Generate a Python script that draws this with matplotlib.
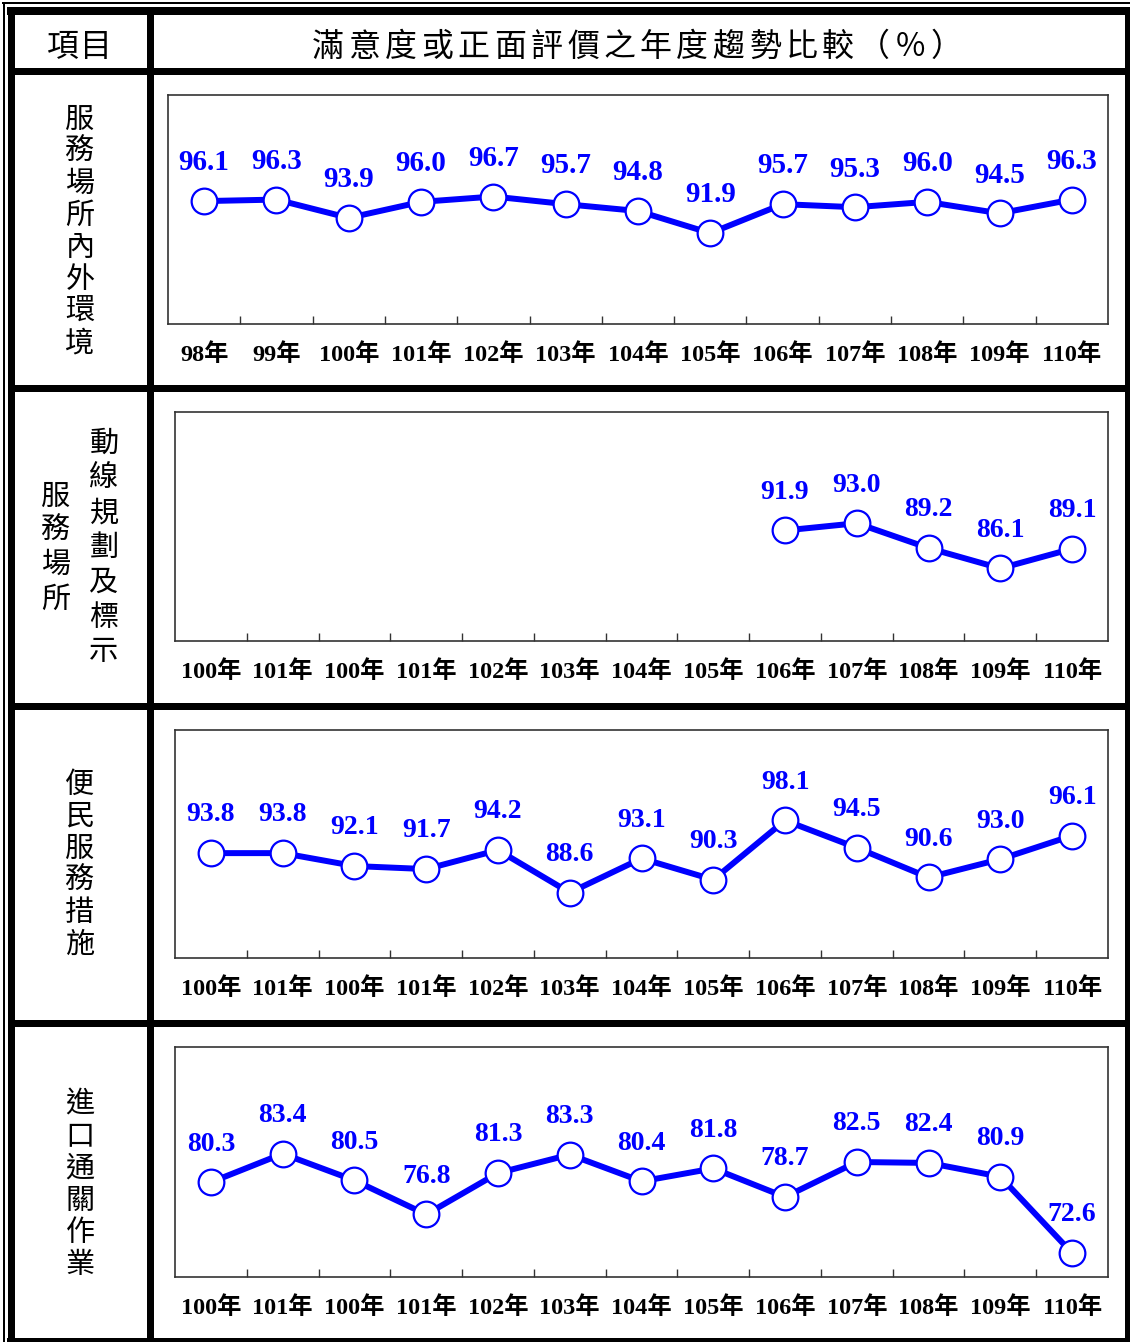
import numpy as np
import matplotlib
matplotlib.use("Agg")
import matplotlib.pyplot as plt
from matplotlib.patches import Rectangle

# ---------------- data ----------------
header_item = "項目"
header_title = "滿意度或正面評價之年度趨勢比較（%）"

row_labels = ["服務場所內外環境", ("服務場所", "動線規劃及標示"), "便民服務措施", "進口通關作業"]

years_env = ['98年', '99年', '100年', '101年', '102年', '103年', '104年',
             '105年', '106年', '107年', '108年', '109年', '110年']
years_other = ['100年', '101年', '100年', '101年', '102年', '103年', '104年',
               '105年', '106年', '107年', '108年', '109年', '110年']

env_values = [96.1, 96.3, 93.9, 96.0, 96.7, 95.7, 94.8, 91.9, 95.7, 95.3, 96.0, 94.5, 96.3]
signage_values = [np.nan] * 8 + [91.9, 93.0, 89.2, 86.1, 89.1]
measures_values = [93.8, 93.8, 92.1, 91.7, 94.2, 88.6, 93.1, 90.3, 98.1, 94.5, 90.6, 93.0, 96.1]
customs_values = [80.3, 83.4, 80.5, 76.8, 81.3, 83.3, 80.4, 81.8, 78.7, 82.5, 82.4, 80.9, 72.6]

series = [env_values, signage_values, measures_values, customs_values]
xlabels = [years_env, years_other, years_other, years_other]
ylims = [(80, 110), (75, 110), (80, 110), (70, 95)]

# ---------------- layout ----------------
W, H = 1130, 1342
fig = plt.figure(figsize=(W / 100, H / 100), dpi=100)
fig.patch.set_facecolor("white")

bg = fig.add_axes([0, 0, 1, 1])
bg.set_xlim(0, W)
bg.set_ylim(H, 0)
bg.axis("off")

def block(x0, y0, x1, y1):
    bg.add_patch(Rectangle((x0, y0), x1 - x0, y1 - y0, facecolor="black",
                           edgecolor="none", zorder=5))

# outer thin lines
block(2, 2, W, 4)          # top thin
block(3, 2, 5, H)          # left thin
# outer thick frame
block(7, 7, W, 15)         # top thick
block(8, 7, 15, H)         # left thick
block(1125, 7, W, H)       # right thick
block(7, 1338, W, H)       # bottom thick
# inner grid
block(8, 68, 1130, 75)     # below header
block(8, 385, 1130, 392)
block(8, 703, 1130, 710)
block(8, 1020, 1130, 1027)
block(147, 7, 154, 1342)   # column divider

cjk = ['Noto Sans CJK TC', 'DejaVu Sans']

def ctext(x, y, s, size, **kw):
    bg.text(x, y, s, fontsize=size, family=cjk, ha="center", va="center",
            zorder=6, **kw)

# header
ctext(62, 47, header_item[0], 23)
ctext(96, 47, header_item[1], 23)
pitch = 36.4
start = 310 + pitch / 2
for i, ch in enumerate(header_title):
    ctext(start + i * pitch, 47, ch, 23)

# vertical row labels
def vtext(x, y_center, s, pitch, size=21):
    n = len(s)
    y0 = y_center - (n - 1) * pitch / 2
    for i, ch in enumerate(s):
        ctext(x, y0 + i * pitch, ch, size)

vtext(80, 232, row_labels[0], 32)
vtext(56, 548, row_labels[1][0], 34.3)
vtext(104, 548, row_labels[1][1], 34.8)
vtext(80, 865, row_labels[2], 32)
vtext(80, 1185, row_labels[3], 32)

# chart axes boxes (pixel coords: left, top, right, bottom)
boxes = [(168, 95, 1108, 324), (175, 412, 1108, 641),
         (175, 730, 1108, 958), (175, 1047, 1108, 1277)]
label_sizes = [21, 20, 20, 20]

blue = "#0000FF"
for k, (l, t, r, b) in enumerate(boxes):
    ax = fig.add_axes([l / W, 1 - b / H, (r - l) / W, (b - t) / H])
    vals = series[k]
    x = np.arange(len(vals))
    ax.plot(x, vals, color=blue, lw=4.3, zorder=3, solid_joinstyle="round")
    ax.plot(x, vals, linestyle="none", marker="o", markersize=18.5,
            markerfacecolor="white", markeredgecolor=blue, markeredgewidth=1.6,
            zorder=4)
    for xi, v in zip(x, vals):
        if np.isnan(v):
            continue
        ax.annotate(f"{v:.1f}", (xi, v), xytext=(0, 27.5), textcoords="offset points",
                    ha="center", va="center", color=blue, fontsize=label_sizes[k],
                    fontweight="bold", family=["Liberation Serif"], zorder=5)
    ax.set_xlim(-0.5, len(vals) - 0.5)
    ax.set_ylim(*ylims[k])
    ax.set_yticks([])
    ax.set_xticks(x)
    ax.set_xticklabels(xlabels[k], fontsize=17.5, fontweight="bold",
                       family=['Liberation Serif', 'Noto Sans CJK TC'])
    ax.tick_params(axis="x", which="major", length=0, pad=14)
    ax.set_xticks(np.arange(0.5, len(vals) - 1, 1.0), minor=True)
    ax.tick_params(axis="x", which="minor", direction="in", length=6,
                   width=1.0, color="#333333")
    for sp in ax.spines.values():
        sp.set_color("#333333")
        sp.set_linewidth(1.2)
    ax.set_facecolor("white")

fig.savefig("out.png", dpi=100, facecolor="white")
